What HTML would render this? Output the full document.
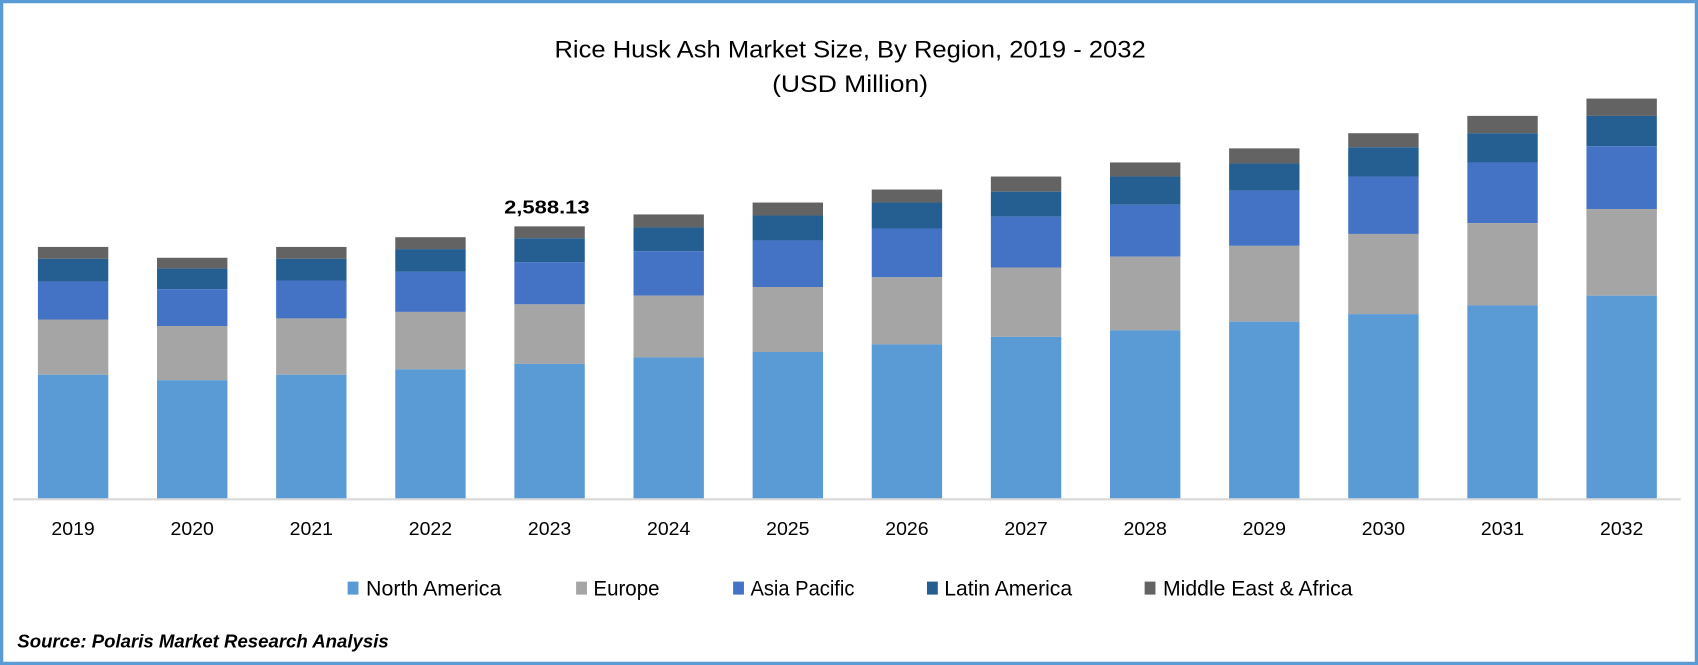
<!DOCTYPE html>
<html><head><meta charset="utf-8"><style>
html,body{margin:0;padding:0;background:#fff}
svg{display:block}
text{font-family:"Liberation Sans",sans-serif;fill:#000}
</style></head><body>
<svg width="1698" height="665" viewBox="0 0 1568 614" preserveAspectRatio="none" xmlns="http://www.w3.org/2000/svg">
<rect x="1.5" y="1.5" width="1565" height="611" fill="#fff" stroke="#5b9bd5" stroke-width="3"/>
<text x="785" y="53" font-size="22.5" text-anchor="middle" textLength="546" lengthAdjust="spacingAndGlyphs">Rice Husk Ash Market Size, By Region, 2019 - 2032</text>
<text x="785" y="85" font-size="22.5" text-anchor="middle" textLength="144" lengthAdjust="spacingAndGlyphs">(USD Million)</text>
<g id="bars"></g>
<line x1="12" y1="461" x2="1552" y2="461" stroke="#d9d9d9" stroke-width="2"/>
<text x="505" y="197" font-size="17" font-weight="bold" text-anchor="middle" textLength="79" lengthAdjust="spacingAndGlyphs">2,588.13</text>
<g font-size="17" id="years"></g>
<g font-size="19.5">
<rect x="321" y="537" width="10" height="12" fill="#5b9bd5"/><text x="338" y="550" textLength="125" lengthAdjust="spacingAndGlyphs">North America</text>
<rect x="532" y="537" width="10" height="12" fill="#a5a5a5"/><text x="548" y="550" textLength="61" lengthAdjust="spacingAndGlyphs">Europe</text>
<rect x="677" y="537" width="10" height="12" fill="#4472c4"/><text x="693" y="550" textLength="96" lengthAdjust="spacingAndGlyphs">Asia Pacific</text>
<rect x="856" y="537" width="10" height="12" fill="#255e91"/><text x="872" y="550" textLength="118" lengthAdjust="spacingAndGlyphs">Latin America</text>
<rect x="1057" y="537" width="10" height="12" fill="#636363"/><text x="1074" y="550" textLength="175" lengthAdjust="spacingAndGlyphs">Middle East &amp; Africa</text>
</g>
<text x="16" y="598" font-size="17" font-weight="bold" font-style="italic" textLength="343" lengthAdjust="spacingAndGlyphs">Source: Polaris Market Research Analysis</text>
<script>
var d=[[228,239,260,295,346],[238,248,267,301,351],[228,239,259,294,346],[219,230,251,288,341],[209,220,242,281,336],[198,210,232,273,330],[187,199,222,265,325],[175,187,211,256,318],[163,177,200,247,311],[150,163,189,237,305],[137,151,176,227,297],[123,136,163,216,290],[107,123,150,206,282],[91,107,135,193,273]];
var c=["#636363","#255e91","#4472c4","#a5a5a5","#5b9bd5"];
var ns="http://www.w3.org/2000/svg",g=document.getElementById("bars"),y=document.getElementById("years");
d.forEach(function(r,i){var x=35+110*i;var b=r.concat([461]);
for(var k=0;k<5;k++){var e=document.createElementNS(ns,"rect");e.setAttribute("x",x);e.setAttribute("y",b[k]);e.setAttribute("width",65);e.setAttribute("height",b[k+1]-b[k]);e.setAttribute("fill",c[k]);g.appendChild(e);}
var t=document.createElementNS(ns,"text");t.setAttribute("x",x+32.5);t.setAttribute("y",494);t.setAttribute("text-anchor","middle");t.setAttribute("textLength","40");t.setAttribute("lengthAdjust","spacingAndGlyphs");t.textContent=2019+i;y.appendChild(t);});
</script>
</svg>
</body></html>
